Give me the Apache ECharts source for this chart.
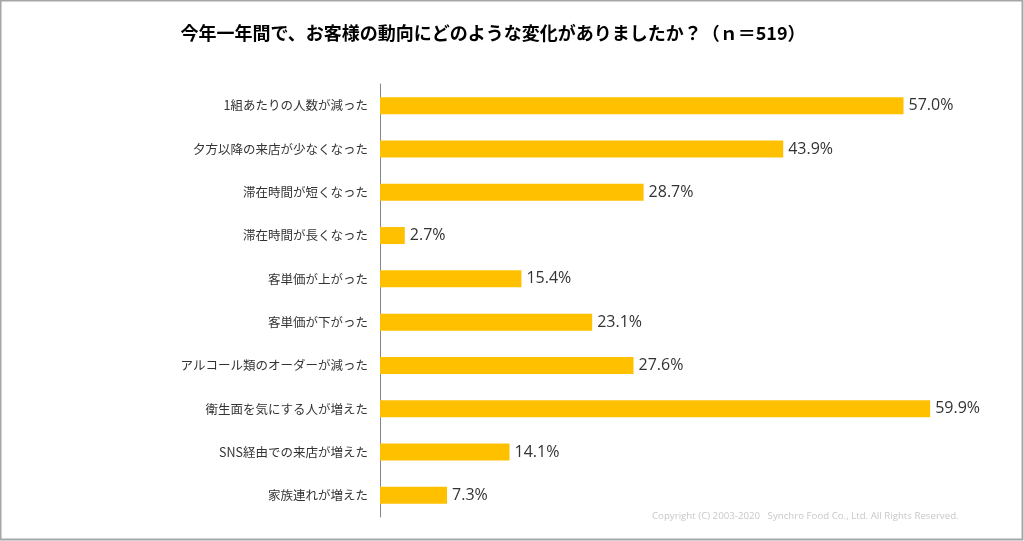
<!DOCTYPE html>
<html><head><meta charset="utf-8">
<script src="https://cdn.jsdelivr.net/npm/echarts@6/dist/echarts.min.js"></script>
<style>html,body{margin:0;padding:0;background:#fff}#c{width:1024px;height:541px}</style>
</head><body><div id="c"></div>
<script>
const titleText = '今年一年間で、お客様の動向にどのような変化がありましたか？（ｎ＝519）';
const categories = ['1組あたりの人数が減った','夕方以降の来店が少なくなった','滞在時間が短くなった','滞在時間が長くなった','客単価が上がった','客単価が下がった','アルコール類のオーダーが減った','衛生面を気にする人が増えた','SNS経由での来店が増えた','家族連れが増えた'];
const values = [57.0, 43.9, 28.7, 2.7, 15.4, 23.1, 27.6, 59.9, 14.1, 7.3];
const copyright = 'Copyright (C) 2003-2020   Synchro Food Co., Ltd. All Rights Reserved.';

const chart = echarts.init(document.getElementById('c'), null, {renderer:'canvas'});
chart.setOption({
  animation:false,
  backgroundColor:'#fff',
  title:{text:titleText,left:488,top:19,textAlign:'center',
    textStyle:{fontFamily:'"Noto Sans CJK JP"',fontSize:18,fontWeight:'bold',color:'#000'}},
  grid:{left:380,top:84,width:597,height:433,containLabel:false},
  xAxis:{type:'value',min:0,max:65,show:false},
  yAxis:{type:'category',data:categories,inverse:true,
    axisLine:{show:true,lineStyle:{color:'#868686',width:1}},
    axisTick:{show:false},
    axisLabel:{margin:12,fontFamily:'"Noto Sans CJK JP"',fontSize:12.5,color:'#333'}},
  series:[{type:'bar',data:values,barWidth:17,
    itemStyle:{color:'#FFC000'},
    label:{show:true,position:'right',distance:5,formatter:p=>p.value.toFixed(1)+'%',
      fontFamily:'"Open Sans"',fontSize:16,color:'#333'}}],
  graphic:[
    {type:'rect',shape:{x:0.5,y:0.5,width:1022,height:539},style:{fill:'none',stroke:'#a6a6a6',lineWidth:2},z:100},
    {type:'text',left:652,top:511,style:{text:copyright,font:'9.7px "Open Sans"',fill:'#c8c8c8'}}
  ]
});
</script></body></html>
